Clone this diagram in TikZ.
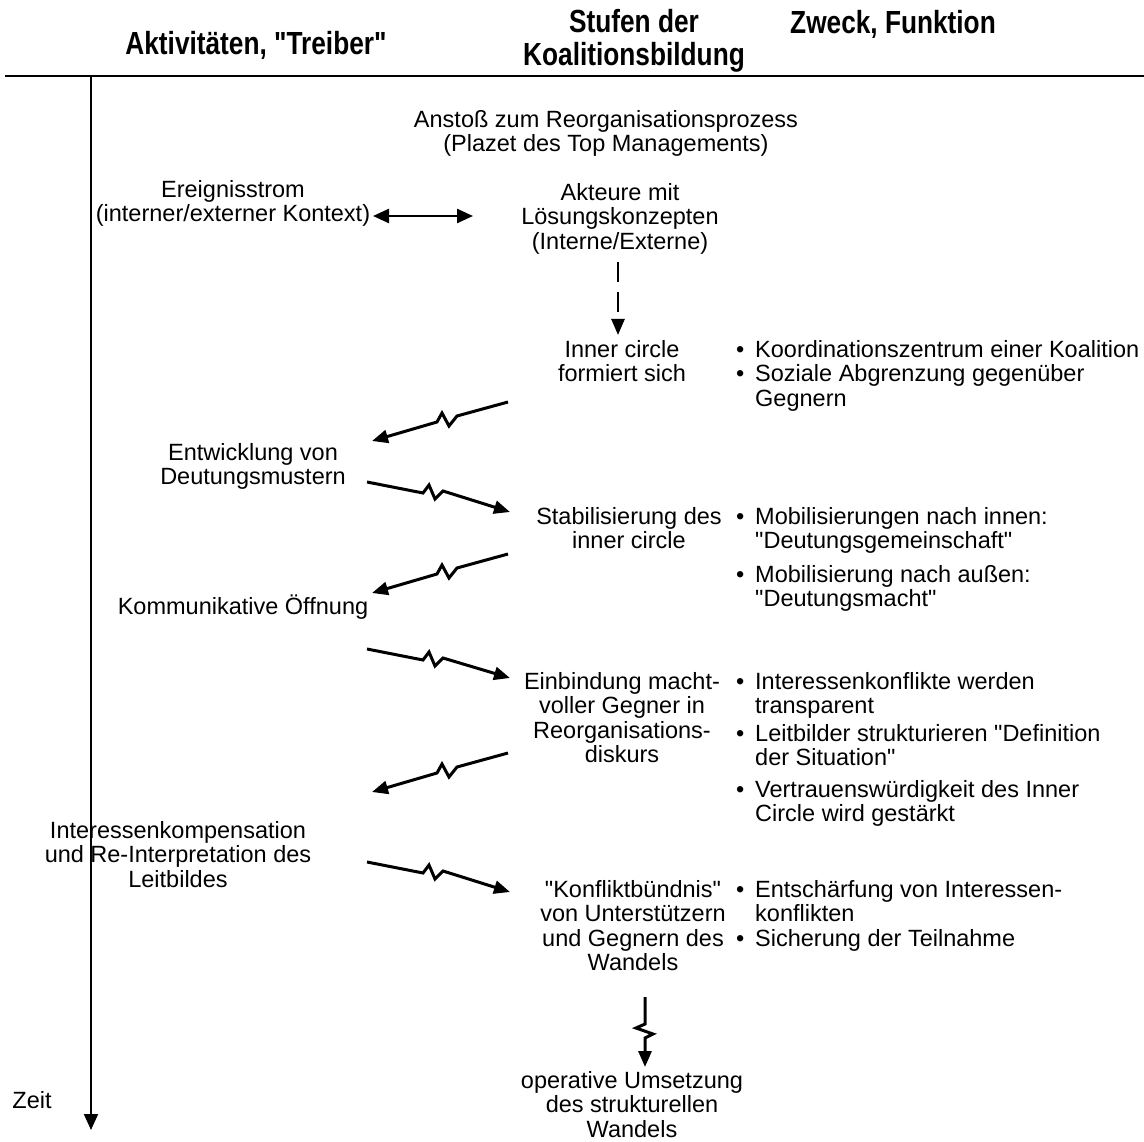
\documentclass[tikz,border=0pt]{standalone}
\usepackage{fontspec}
\setmainfont{Liberation Sans}
\newfontfamily\bodyfont{Liberation Sans}
\newfontfamily\hdfont[FakeStretch=0.82]{Liberation Sans}
\usetikzlibrary{arrows.meta}
\newcommand\bstrut{\rule[-6pt]{0pt}{23pt}}
\newcommand\bl{\makebox[19pt][l]{•}}
\newcommand\ind{\hspace*{19pt}}
\begin{document}
\begin{tikzpicture}[x=1pt,y=-1pt,
  txt/.style={font=\bodyfont\fontsize{23.5}{24.5}\selectfont, inner sep=0pt, align=center, anchor=north,
    execute at begin node=\bstrut, execute at end node=\bstrut},
  bul/.style={txt, align=left, anchor=north west},
  hd/.style={font=\hdfont\bfseries\fontsize{32}{33}\selectfont, inner sep=0pt, align=center},
  tip/.style={-{Triangle[length=16pt,width=13pt]}},
  zarrow/.style={line width=3pt, tip, line join=miter},
  axis/.style={line width=2pt, -{Triangle[length=16pt,width=14pt]}}
]
\useasboundingbox (0,0) rectangle (1144,1142);
% header
\node[hd] (h1) at (256,45) {Aktivitäten, "Treiber"};
\node[hd] (h2) at (634,41) {Stufen der\\Koalitionsbildung};
\node[hd] (h3) at (893,24) {Zweck, Funktion};
\coordinate (hl) at (5,76);
\coordinate (hr) at (1144,76);
\draw[line width=2.7pt] (hl) -- (hr);
% time axis
\coordinate (ta) at (91,76);
\coordinate (tb) at (91,1130);
\draw[axis] (ta) -- (tb);
\node[txt, anchor=center] (zeit) at (32,1103) {Zeit};
% centre column
\node[txt] (anst) at (606,110) {Anstoß zum Reorganisationsprozess\\(Plazet des Top Managements)};
\node[txt] (ereig) at (233,180) {Ereignisstrom\\(interner/externer Kontext)};
\node[txt] (akt) at (620,183) {Akteure mit\\Lösungskonzepten\\(Interne/Externe)};
\coordinate (da) at (373,216);
\coordinate (db) at (473,216);
\draw[line width=2.5pt, {Triangle[length=16pt,width=14pt]}-{Triangle[length=16pt,width=14pt]}] (da) -- (db);
\coordinate (ds) at (618,262);
\coordinate (de) at (618,335);
\draw[line width=2.5pt, dash pattern=on 20pt off 10pt, tip] (ds) -- (de);
\node[txt] (inner) at (622,340) {Inner circle\\formiert sich};
\node[bul] (b1) at (736,340) {\bl Koordinationszentrum einer Koalition\\\bl Soziale Abgrenzung gegenüber\\\ind Gegnern};
% arrow 1 left
\coordinate (l1s) at (508,402);
\coordinate (l1e) at (372,441);
\draw[zarrow] (l1s) -- ++(-51,14) -- ++(-8,10) -- ++(-7,-13) -- ++(-5,9) -- (l1e);
\node[txt] (entw) at (253,443) {Entwicklung von\\Deutungsmustern};
% arrow 1 right
\coordinate (r1s) at (367,482);
\coordinate (r1e) at (510,512);
\draw[zarrow] (r1s) -- ++(56,11) -- ++(6,-8) -- ++(6,14) -- ++(8,-8) -- (r1e);
\node[txt] (stab) at (629,507) {Stabilisierung des\\inner circle};
\node[bul] (b2) at (736,507) {\bl Mobilisierungen nach innen:\\\ind "Deutungsgemeinschaft"\\[9pt]\bl Mobilisierung nach außen:\\\ind "Deutungsmacht"};
% arrow 2 left
\coordinate (l2s) at (508,554);
\coordinate (l2e) at (372,593);
\draw[zarrow] (l2s) -- ++(-51,14) -- ++(-8,10) -- ++(-7,-13) -- ++(-5,9) -- (l2e);
\node[txt] (komm) at (243,595) {Kommunikative Öffnung};
% arrow 2 right
\coordinate (r2s) at (367,649);
\coordinate (r2e) at (510,678);
\draw[zarrow] (r2s) -- ++(56,11) -- ++(6,-8) -- ++(6,14) -- ++(8,-8) -- (r2e);
\node[txt] (einb) at (622,672) {Einbindung macht-\\voller Gegner in\\Reorganisations-\\diskurs};
\node[bul] (b3) at (736,672) {\bl Interessenkonflikte werden\\\ind transparent\\[3pt]\bl Leitbilder strukturieren "Definition\\\ind der Situation"\\[7pt]\bl Vertrauenswürdigkeit des Inner\\\ind Circle wird gestärkt};
% arrow 3 left
\coordinate (l3s) at (508,753);
\coordinate (l3e) at (372,792);
\draw[zarrow] (l3s) -- ++(-51,14) -- ++(-8,10) -- ++(-7,-13) -- ++(-5,9) -- (l3e);
\node[txt] (inter) at (178,821) {Interessenkompensation\\und Re-Interpretation des\\Leitbildes};
% arrow 3 right
\coordinate (r3s) at (367,862);
\coordinate (r3e) at (510,892);
\draw[zarrow] (r3s) -- ++(56,11) -- ++(6,-8) -- ++(6,14) -- ++(8,-8) -- (r3e);
\node[txt] (konf) at (633,880) {"Konfliktbündnis"\\von Unterstützern\\und Gegnern des\\Wandels};
\node[bul] (b4) at (736,880) {\bl Entschärfung von Interessen-\\\ind konflikten\\\bl Sicherung der Teilnahme};
% vertical arrow
\coordinate (vs) at (645,997);
\coordinate (ve) at (645,1067);
\draw[zarrow] (vs) -- ++(0,27) -- ++(-9,4) -- ++(17,6) -- ++(-8,4) -- (ve);
\node[txt] (oper) at (632,1071) {operative Umsetzung\\des strukturellen\\Wandels};
\end{tikzpicture}
\end{document}
